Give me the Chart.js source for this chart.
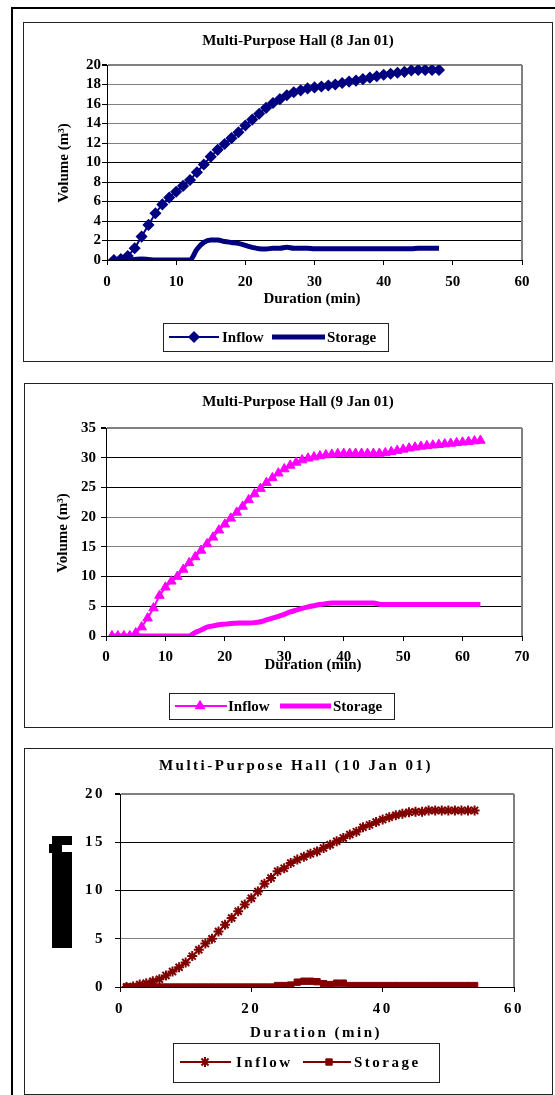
<!DOCTYPE html>
<html>
<head>
<meta charset="utf-8">
<title>Multi-Purpose Hall – Inflow and Storage</title>
<script src="https://cdn.jsdelivr.net/npm/chart.js@4.4.1/dist/chart.umd.min.js"></script>
<style>
  html, body { margin: 0; padding: 0; background: #fff; }
  body { width: 555px; height: 1095px; position: relative; overflow: hidden; }
  .rule { position: absolute; background: #000; }
  .box { position: absolute; border: 1px solid #222; box-sizing: border-box; background: #fff; }
  .box canvas { position: absolute; left: 0; top: 0; }
</style>
</head>
<body>
<div class="rule" style="left:11px;top:7px;width:2px;height:1088px"></div>
<div class="rule" style="left:11px;top:7px;width:544px;height:2px"></div>

<div class="box" style="left:23px;top:22px;width:530px;height:340px"><canvas id="c1" width="528" height="338"></canvas></div>
<div class="box" style="left:24px;top:383px;width:529px;height:345px"><canvas id="c2" width="527" height="343"></canvas></div>
<div class="box" style="left:24px;top:748px;width:529px;height:347px"><canvas id="c3" width="527" height="345"></canvas></div>

<script>
// ---------- 8 Jan 01 ----------
const minutes8 = [1,2,3,4,5,6,7,8,9,10,11,12,13,14,15,16,17,18,19,20,21,22,23,24,25,26,27,28,29,30,31,32,33,34,35,36,37,38,39,40,41,42,43,44,45,46,47,48];
const inflow8 = [0,0.1,0.4,1.2,2.4,3.6,4.8,5.7,6.4,7.0,7.6,8.2,9.0,9.8,10.6,11.3,11.9,12.5,13.1,13.8,14.4,15.0,15.6,16.1,16.5,16.9,17.2,17.4,17.6,17.7,17.8,17.9,18.0,18.15,18.3,18.4,18.55,18.7,18.85,19.0,19.1,19.2,19.3,19.45,19.5,19.5,19.5,19.5];
const storage8 = [0,0,0,0.05,0.1,0.05,0,0,0,0,0,0,1.1,1.8,2.05,2.05,1.9,1.8,1.7,1.5,1.3,1.15,1.13,1.2,1.2,1.3,1.2,1.2,1.2,1.15,1.15,1.15,1.15,1.15,1.15,1.15,1.15,1.15,1.15,1.15,1.15,1.15,1.15,1.15,1.2,1.2,1.2,1.2];

// ---------- 9 Jan 01 ----------
const minutes9 = [1,2,3,4,5,6,7,8,9,10,11,12,13,14,15,16,17,18,19,20,21,22,23,24,25,26,27,28,29,30,31,32,33,34,35,36,37,38,39,40,41,42,43,44,45,46,47,48,49,50,51,52,53,54,55,56,57,58,59,60,61,62,63];
const inflow9 = [0,0,0,0,0.5,1.5,3.0,4.7,6.8,8.2,9.2,10.0,11.2,12.3,13.3,14.4,15.5,16.6,17.8,18.8,19.8,20.8,21.8,22.9,23.9,24.8,25.8,26.6,27.4,28.1,28.7,29.2,29.6,29.9,30.1,30.3,30.45,30.55,30.65,30.7,30.7,30.7,30.7,30.7,30.7,30.7,30.8,31.0,31.2,31.4,31.6,31.75,31.9,32.0,32.1,32.2,32.3,32.4,32.5,32.6,32.7,32.8,32.9];
const storage9 = [0,0,0,0,0,0,0,0,0,0,0,0,0,0,0.6,1.0,1.5,1.7,1.9,2.0,2.1,2.15,2.2,2.2,2.25,2.4,2.7,3.0,3.3,3.65,4.05,4.35,4.65,4.9,5.1,5.3,5.45,5.55,5.55,5.55,5.55,5.55,5.55,5.55,5.55,5.35,5.3,5.3,5.3,5.3,5.3,5.3,5.3,5.3,5.3,5.3,5.3,5.3,5.3,5.3,5.3,5.3,5.3];

// ---------- 10 Jan 01 ----------
const minutes10 = [1,2,3,4,5,6,7,8,9,10,11,12,13,14,15,16,17,18,19,20,21,22,23,24,25,26,27,28,29,30,31,32,33,34,35,36,37,38,39,40,41,42,43,44,45,46,47,48,49,50,51,52,53,54];
const inflow10 = [0,0.05,0.25,0.4,0.6,0.8,1.2,1.6,2.05,2.55,3.2,3.85,4.5,5.0,5.75,6.45,7.15,7.85,8.55,9.2,9.9,10.7,11.3,12.0,12.3,12.85,13.2,13.5,13.8,14.05,14.4,14.75,15.1,15.45,15.8,16.1,16.55,16.8,17.1,17.35,17.6,17.8,17.95,18.1,18.15,18.15,18.3,18.3,18.3,18.3,18.3,18.3,18.3,18.3];
const storage10 = [0,0,0,0,0,0,0,0,0,0,0,0,0,0,0,0,0,0,0,0,0,0,0,0.15,0.15,0.2,0.5,0.6,0.6,0.55,0.35,0.25,0.4,0.4,0.15,0.15,0.15,0.15,0.15,0.15,0.15,0.15,0.15,0.15,0.15,0.15,0.15,0.15,0.15,0.15,0.15,0.15,0.15,0.15];

const yTicks8 = [0,2,4,6,8,10,12,14,16,18,20];
const yTicks9 = [0,5,10,15,20,25,30,35];
const yTicks10 = [0,5,10,15,20];
const xTicks8 = [0,10,20,30,40,50,60];
const xTicks9 = [0,10,20,30,40,50,60,70];
const xTicks10 = [0,20,40,60];

const SERIF = '"Liberation Serif", "Times New Roman", serif';

function pairs(xs, ys) { return xs.map((x, i) => ({ x: x, y: ys[i] })); }

// Titles, axis captions, boxed legend and the right-hand plot border.
const decoPlugin = {
  id: 'deco',
  beforeDraw(chart) {
    const d = chart.options.plugins.deco;
    if (d.spacing) chart.ctx.letterSpacing = d.spacing;
  },
  afterDraw(chart) {
    const d = chart.options.plugins.deco;
    const ctx = chart.ctx, ox = d.origin[0], oy = d.origin[1];
    const a = chart.chartArea;
    ctx.save();
    if (d.spacing) ctx.letterSpacing = d.spacing;

    // grey plot-area border on the right
    ctx.strokeStyle = '#808080';
    ctx.lineWidth = 2;
    ctx.beginPath();
    ctx.moveTo(a.right, a.top);
    ctx.lineTo(a.right, a.bottom);
    ctx.stroke();

    ctx.fillStyle = '#000';
    ctx.font = 'bold ' + d.fontSize + 'px ' + SERIF;
    ctx.textBaseline = 'middle';
    ctx.textAlign = 'center';
    ctx.fillText(d.title.text, d.title.x - ox, d.title.y - oy);
    ctx.fillText(d.xTitle.text, d.xTitle.x - ox, d.xTitle.y - oy);

    if (d.yTitle) {
      ctx.save();
      ctx.translate(d.yTitle.x - ox, d.yTitle.y - oy);
      ctx.rotate(-Math.PI / 2);
      ctx.fillText(d.yTitle.text, 0, 0);
      ctx.restore();
    }
    if (d.blocks) {
      d.blocks.forEach(b => ctx.fillRect(b[0] - ox, b[1] - oy, b[2] - b[0], b[3] - b[1]));
    }

    // legend
    const L = d.legend;
    ctx.fillStyle = '#fff';
    ctx.fillRect(L.box[0] - ox, L.box[1] - oy, L.box[2] - L.box[0], L.box[3] - L.box[1]);
    ctx.strokeStyle = '#222';
    ctx.lineWidth = 1;
    ctx.strokeRect(L.box[0] - ox + 0.5, L.box[1] - oy + 0.5, L.box[2] - L.box[0], L.box[3] - L.box[1]);
    const cy = L.cy - oy;
    L.items.forEach(it => {
      const ds = chart.data.datasets[it.ds];
      ctx.strokeStyle = ds.borderColor;
      ctx.lineWidth = ds.borderWidth;
      ctx.lineCap = 'butt';
      ctx.beginPath();
      ctx.moveTo(it.l1 - ox, cy);
      ctx.lineTo(it.l2 - ox, cy);
      ctx.stroke();
      if (ds.pointRadius > 0) {
        ctx.fillStyle = ds.backgroundColor;
        ctx.strokeStyle = ds.borderColor;
        ctx.lineWidth = ds.pointBorderWidth;
        Chart.helpers.drawPoint(ctx, {
          pointStyle: ds.pointStyle, radius: ds.pointRadius,
          borderWidth: ds.pointBorderWidth, rotation: 0
        }, it.m - ox, cy);
      }
      ctx.fillStyle = '#000';
      ctx.textAlign = 'left';
      ctx.fillText(ds.label, it.tx - ox, cy + 1);
    });
    ctx.restore();
  }
};

function buildChart(id, spec) {
  const ox = spec.origin[0], oy = spec.origin[1];
  const cw = spec.size[0], ch = spec.size[1];
  const area = spec.area; // left, top, right, bottom in page pixels
  const xH = 40;
  const yMax = spec.yTicks[spec.yTicks.length - 1];
  const xMax = spec.xTicks[spec.xTicks.length - 1];
  const tickFont = { family: SERIF, size: spec.tickSize, weight: 'bold' };

  return new Chart(document.getElementById(id), {
    type: 'line',
    data: { datasets: spec.datasets },
    options: {
      responsive: false,
      animation: false,
      events: [],
      layout: {
        padding: {
          left: 0,
          top: area[1] - oy,
          right: (ox + cw) - area[2],
          bottom: ch - (area[3] - oy) - xH
        }
      },
      plugins: {
        legend: { display: false },
        title: { display: false },
        tooltip: { enabled: false },
        deco: Object.assign({ origin: spec.origin }, spec.deco)
      },
      scales: {
        x: {
          type: 'linear',
          min: 0, max: xMax,
          afterBuildTicks: s => { s.ticks = spec.xTicks.map(v => ({ value: v })); },
          afterFit: s => { s.height = xH; },
          ticks: { font: tickFont, color: '#000', padding: spec.xPad, maxRotation: 0, autoSkip: false },
          grid: { drawOnChartArea: false, drawTicks: true, tickLength: 5, tickColor: '#000', color: '#000' },
          border: { color: '#000', width: 1 }
        },
        y: {
          type: 'linear',
          min: 0, max: yMax,
          afterBuildTicks: s => { s.ticks = spec.yTicks.map(v => ({ value: v })); },
          afterFit: s => { s.width = area[0] - ox; },
          ticks: { font: tickFont, color: '#000', padding: spec.yPad, autoSkip: false },
          grid: {
            drawTicks: true, tickLength: 5, tickColor: '#000',
            color: c => (c.tick && (c.tick.value === yMax || spec.greyLines.includes(c.tick.value))) ? '#808080' : '#000',
            lineWidth: c => (c.tick && c.tick.value === yMax) ? 2 : 1
          },
          border: { color: '#000', width: 1 }
        }
      }
    },
    plugins: [decoPlugin]
  });
}

const NAVY = '#000080', MAGENTA = '#FF00FF', MAROON = '#800000';

buildChart('c1', {
  origin: [24, 23], size: [528, 338], area: [107, 65, 522, 260],
  xTicks: xTicks8, yTicks: yTicks8, tickSize: 15, xPad: 8, yPad: 1,
  greyLines: [12, 14, 16, 18],
  datasets: [
    { label: 'Inflow', data: pairs(minutes8, inflow8), borderColor: NAVY, backgroundColor: NAVY,
      borderWidth: 2, pointStyle: 'rectRot', pointRadius: 5, pointBorderWidth: 1.5, tension: 0 },
    { label: 'Storage', data: pairs(minutes8, storage8), borderColor: NAVY, backgroundColor: NAVY,
      borderWidth: 5, pointRadius: 0, cubicInterpolationMode: 'monotone' }
  ],
  deco: {
    fontSize: 15,
    title: { text: 'Multi-Purpose Hall (8 Jan 01)', x: 298, y: 41 },
    xTitle: { text: 'Duration (min)', x: 312, y: 299 },
    yTitle: { text: 'Volume (m³)', x: 64, y: 163 },
    legend: { box: [163, 323, 388, 351], cy: 337,
      items: [ { ds: 0, l1: 169, l2: 219, m: 194, tx: 222 }, { ds: 1, l1: 272, l2: 325, m: 0, tx: 327 } ] }
  }
});

buildChart('c2', {
  origin: [25, 384], size: [527, 343], area: [106, 428, 522, 636],
  xTicks: xTicks9, yTicks: yTicks9, tickSize: 15, xPad: 7, yPad: 5,
  greyLines: [15, 20],
  datasets: [
    { label: 'Inflow', data: pairs(minutes9, inflow9), borderColor: MAGENTA, backgroundColor: MAGENTA,
      borderWidth: 2, pointStyle: 'triangle', pointRadius: 5.5, pointBorderWidth: 1, tension: 0 },
    { label: 'Storage', data: pairs(minutes9, storage9), borderColor: MAGENTA, backgroundColor: MAGENTA,
      borderWidth: 5, pointRadius: 0, cubicInterpolationMode: 'monotone' }
  ],
  deco: {
    fontSize: 15,
    title: { text: 'Multi-Purpose Hall (9 Jan 01)', x: 298, y: 402 },
    xTitle: { text: 'Duration (min)', x: 313, y: 665 },
    yTitle: { text: 'Volume (m³)', x: 63, y: 533 },
    legend: { box: [169, 693, 394, 719], cy: 706,
      items: [ { ds: 0, l1: 175, l2: 227, m: 200, tx: 228 }, { ds: 1, l1: 280, l2: 331, m: 0, tx: 333 } ] }
  }
});

buildChart('c3', {
  origin: [25, 749], size: [527, 345], area: [120, 794, 514, 987],
  xTicks: xTicks10, yTicks: yTicks10, tickSize: 15, xPad: 8, yPad: 10,
  greyLines: [5],
  datasets: [
    { label: 'Inflow', data: pairs(minutes10, inflow10), borderColor: MAROON, backgroundColor: MAROON,
      borderWidth: 2, pointStyle: 'star', pointRadius: 5, pointBorderWidth: 2, tension: 0 },
    { label: 'Storage', data: pairs(minutes10, storage10), borderColor: MAROON, backgroundColor: MAROON,
      borderWidth: 2, pointStyle: 'rect', pointRadius: 4.5, pointBorderWidth: 1, tension: 0 }
  ],
  deco: {
    fontSize: 15,
    spacing: '2.5px',
    title: { text: 'Multi-Purpose Hall (10 Jan 01)', x: 296, y: 766 },
    xTitle: { text: 'Duration (min)', x: 316, y: 1033 },
    blocks: [ [52, 836, 72, 845], [49, 844, 62, 853], [52, 852, 72, 948] ],
    legend: { box: [173, 1043, 439, 1082], cy: 1062,
      items: [ { ds: 0, l1: 180, l2: 231, m: 205, tx: 236 }, { ds: 1, l1: 303, l2: 351, m: 329, tx: 354 } ] }
  }
});
</script>
</body>
</html>
